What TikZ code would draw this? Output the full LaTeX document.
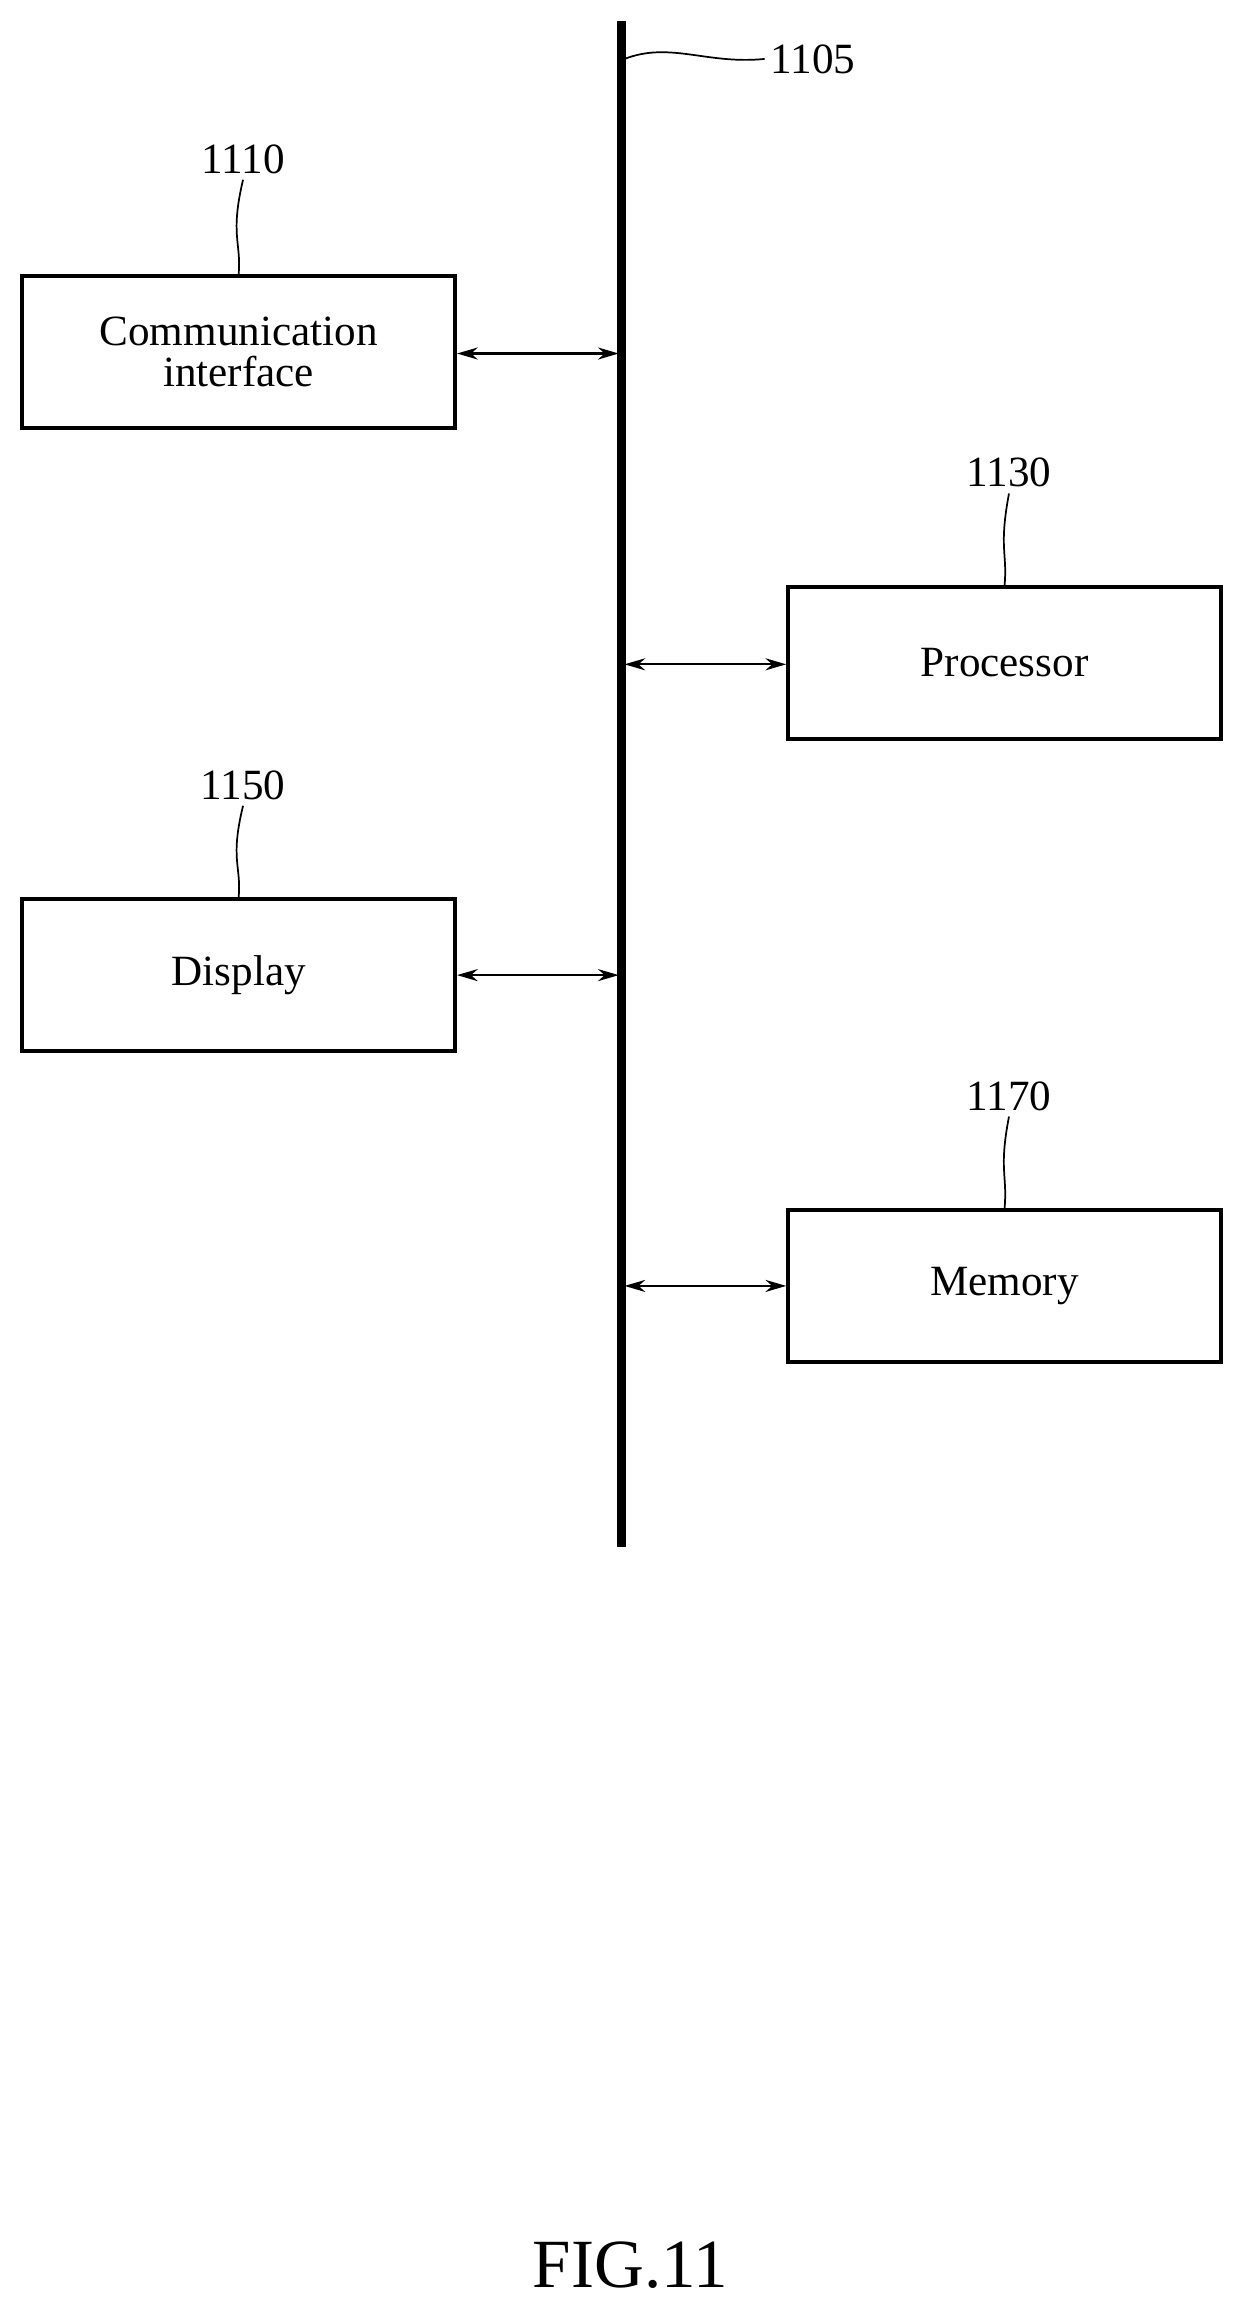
\documentclass[tikz,border=0pt]{standalone}
\usepackage{fontspec}
\setmainfont{Liberation Serif}
\usetikzlibrary{arrows.meta,positioning}
\tikzset{
box/.style={draw,line width=2.2pt,minimum width=8.82cm,minimum height=3.09cm,align=center,font=\fontsize{25}{30}\selectfont},
num/.style={font=\fontsize{25}{30}\selectfont},
lead/.style={line width=1pt},
}
\begin{document}
\begin{tikzpicture}[x=0.03cm,y=-0.03cm]
\useasboundingbox (0,0) rectangle (848,1573);
\coordinate (top) at (422,14);
\coordinate (bot) at (422,1050);
\draw[line width=5pt] (top) -- (bot);
\node[box] (C) at (162,239) {Communication\\[-6pt]interface};
\node[box] (P) at (682,450) {Processor};
\node[box] (D) at (162,662) {Display};
\node[box] (M) at (682,873) {Memory};
\node[num] (n1105) at (552,40) {1105};
\node[num] (n1110) at (165,108) {1110};
\node[num] (n1130) at (685,321) {1130};
\node[num] (n1150) at (165,533) {1150};
\node[num] (n1170) at (685,744) {1170};
\node[font=\fontsize{40}{48}\selectfont] (fig) at (428,1538) {FIG.11};
\coordinate (bC) at (420,240);
\coordinate (bP) at (424,451);
\coordinate (bD) at (420,662);
\coordinate (bM) at (424,873);
\path[{Stealth[length=12pt,width=7pt]}-{Stealth[length=12pt,width=7pt]},line width=1.2pt]
(C.east |- bC) edge (bC)
(bP) edge (P.west |- bP)
(D.east |- bD) edge (bD)
(bM) edge (M.west |- bM);
% leader lines
\draw[lead] (424,40) .. controls (455,28) and (480,44) .. (n1105.west);
\draw[lead] (C.north) .. controls (164,165) and (156,160) .. (n1110.south);
\draw[lead] (P.north) .. controls (684,376) and (678,372) .. (n1130.south);
\draw[lead] (D.north) .. controls (164,588) and (156,584) .. (n1150.south);
\draw[lead] (M.north) .. controls (684,798) and (678,794) .. (n1170.south);
\end{tikzpicture}
\end{document}
